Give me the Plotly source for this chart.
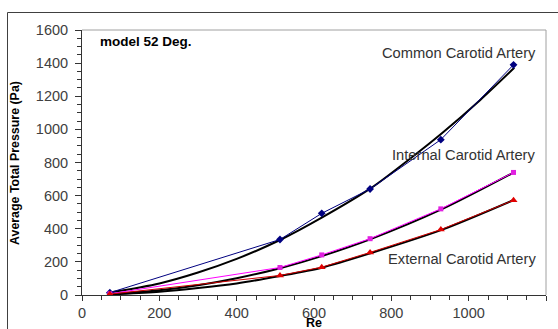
import plotly.graph_objects as go

# Data
re_vals = [72, 512, 620, 745, 928, 1116]
common = [14, 335, 493, 640, 938, 1390]
internal = [7, 166, 242, 340, 520, 740]
external = [5, 118, 168, 257, 395, 572]

# Trendlines (black)
trend_common_x = [72, 200, 300, 400, 512, 620, 747, 850, 930, 1030, 1118]
trend_common_y = [15, 70, 136, 218, 332, 467, 645, 826, 975, 1178, 1372]
trend_internal_x = [72, 200, 300, 400, 512, 620, 745, 928, 1115]
trend_internal_y = [5, 28, 59, 101, 162, 235, 336, 515, 738]
trend_external_x = [72, 200, 300, 400, 512, 620, 746, 930, 1118]
trend_external_y = [3, 20, 42, 70, 115, 165, 252, 393, 575]

x_ticks = [0, 200, 400, 600, 800, 1000, 1200]
y_ticks = [0, 200, 400, 600, 800, 1000, 1200, 1400, 1600]

FONT = "Liberation Sans, Arial, sans-serif"

fig = go.Figure()

for tx, ty in [(trend_common_x, trend_common_y),
               (trend_internal_x, trend_internal_y),
               (trend_external_x, trend_external_y)]:
    fig.add_trace(go.Scatter(x=tx, y=ty, mode="lines",
                             line=dict(color="black", width=2, shape="spline", smoothing=0.8),
                             hoverinfo="skip", showlegend=False))

fig.add_trace(go.Scatter(x=re_vals, y=common, mode="lines+markers",
                         line=dict(color="#000080", width=1),
                         marker=dict(symbol="diamond", size=6, color="#000080"),
                         showlegend=False))
fig.add_trace(go.Scatter(x=re_vals, y=internal, mode="lines+markers",
                         line=dict(color="#FF00FF", width=1),
                         marker=dict(symbol="square", size=5, color="#E020E0"),
                         showlegend=False))
fig.add_trace(go.Scatter(x=re_vals, y=external, mode="lines+markers",
                         line=dict(color="#CC0000", width=1),
                         marker=dict(symbol="triangle-up", size=7, color="#E00000"),
                         showlegend=False))

L, R, T, B = 82, 12, 30, 34
W, H = 558, 329
pw, ph = W - L - R, H - T - B

def px_x(p):
    return (p - L) / pw

def px_y(p):
    return (H - B - p) / ph

annos = [
    dict(x=41, y=1530, xref="x", yref="y", text="<b>model 52 Deg.</b>", showarrow=False,
         xanchor="left", yanchor="middle", font=dict(family=FONT, size=13.5, color="black")),
    dict(x=1179, y=1461, xref="x", yref="y", text="Common Carotid Artery", showarrow=False,
         xanchor="right", yanchor="middle", font=dict(family=FONT, size=14.7, color="#333333")),
    dict(x=1179, y=845, xref="x", yref="y", text="Internal Carotid Artery", showarrow=False,
         xanchor="right", yanchor="middle", font=dict(family=FONT, size=14.7, color="#333333")),
    dict(x=1179, y=217, xref="x", yref="y", text="External Carotid Artery", showarrow=False,
         xanchor="right", yanchor="middle", font=dict(family=FONT, size=14.7, color="#333333")),
    dict(x=px_x(15), y=px_y(163), xref="paper", yref="paper", text="<b>Average Total Pressure (Pa)</b>",
         showarrow=False, textangle=-90, xanchor="center", yanchor="middle",
         font=dict(family=FONT, size=12.4, color="black")),
    dict(x=px_x(314), y=px_y(323), xref="paper", yref="paper", text="<b>Re</b>",
         showarrow=False, xanchor="center", yanchor="middle",
         font=dict(family=FONT, size=12.5, color="black")),
]

shapes = [
    # plot area top/right border (gray)
    dict(type="line", xref="paper", yref="paper", x0=0, x1=1, y0=1, y1=1,
         line=dict(color="#A0A0A0", width=1)),
    dict(type="line", xref="paper", yref="paper", x0=1, x1=1, y0=0, y1=1,
         line=dict(color="#A0A0A0", width=1)),
    # outer chart frame
    dict(type="line", xref="paper", yref="paper", x0=px_x(7.5), x1=px_x(7.5), y0=px_y(340), y1=px_y(12.5),
         line=dict(color="#404040", width=1)),
    dict(type="line", xref="paper", yref="paper", x0=px_x(7.5), x1=px_x(570), y0=px_y(12.5), y1=px_y(12.5),
         line=dict(color="#404040", width=1)),
]

fig.update_layout(
    width=W, height=H, autosize=False,
    margin=dict(l=L, r=R, t=T, b=B, pad=0),
    paper_bgcolor="white", plot_bgcolor="white",
    font=dict(family=FONT, color="#404040"),
    annotations=annos, shapes=shapes,
    xaxis=dict(range=[0, 1200], tickvals=x_ticks, ticktext=[str(v) for v in x_ticks],
               ticks="outside", ticklen=5, tickcolor="#333333", tickwidth=1,
               showline=True, linecolor="#333333", linewidth=1,
               showgrid=False, zeroline=False, automargin=False,
               tickfont=dict(family=FONT, size=14.5, color="#404040"),
               minor=dict(dtick=50, ticks="outside", ticklen=4, tickcolor="#333333", showgrid=False)),
    yaxis=dict(range=[0, 1600], tickvals=y_ticks, ticktext=[str(v) for v in y_ticks],
               ticks="outside", ticklen=6, tickcolor="#333333", tickwidth=1,
               showline=True, linecolor="#333333", linewidth=1,
               showgrid=False, zeroline=False, ticklabelstandoff=4, automargin=False,
               tickfont=dict(family=FONT, size=14.5, color="#404040"),
               minor=dict(dtick=50, ticks="outside", ticklen=4, tickcolor="#333333", showgrid=False)),
)

fig.write_html("out.html")
